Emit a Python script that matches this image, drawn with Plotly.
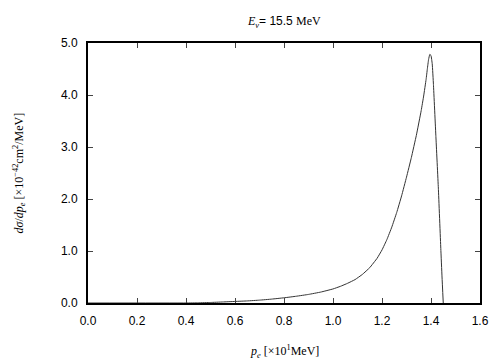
import plotly.graph_objects as go

pe = [0.0, 0.40, 0.45, 0.50, 0.55, 0.60, 0.65, 0.70, 0.75, 0.80, 0.85, 0.90, 0.95, 1.00, 1.03, 1.06,
      1.09, 1.12, 1.15, 1.18, 1.20, 1.22, 1.24, 1.26, 1.28, 1.30, 1.32, 1.34, 1.36, 1.37, 1.38,
      1.385, 1.39, 1.395, 1.40, 1.405, 1.41, 1.42, 1.43, 1.44, 1.445, 1.45]
dsig = [0.0, 0.0, 0.003, 0.01, 0.02, 0.03, 0.04, 0.055, 0.075, 0.10, 0.13, 0.165, 0.21, 0.27, 0.32, 0.38,
        0.45, 0.55, 0.68, 0.86, 1.02, 1.22, 1.46, 1.74, 2.06, 2.42, 2.80, 3.22, 3.70, 3.98, 4.30,
        4.50, 4.68, 4.78, 4.76, 4.60, 4.20, 3.20, 2.21, 1.05, 0.50, 0.0]

xticks = [0.0, 0.2, 0.4, 0.6, 0.8, 1.0, 1.2, 1.4, 1.6]
yticks = [0.0, 1.0, 2.0, 3.0, 4.0, 5.0]

fig = go.Figure()
fig.add_trace(go.Scatter(x=pe, y=dsig, mode="lines",
                         line=dict(color="#333333", width=1, shape="spline", smoothing=0.3),
                         showlegend=False, hoverinfo="skip"))

axis_common = dict(showgrid=False, zeroline=False, showline=True, linecolor="black", linewidth=2,
                   mirror="ticks", ticks="inside", ticklen=5, tickwidth=1, tickcolor="#444",
                   ticklabelstandoff=6,
                   tickfont=dict(family="Liberation Sans, Arial", size=12, color="black"))

fig.update_layout(
    width=504, height=360,
    margin=dict(l=80, r=32, t=35, b=65),
    paper_bgcolor="white", plot_bgcolor="white",
    xaxis=dict(range=[0, 1.6], tickvals=xticks, ticktext=[f"{v:.1f}" for v in xticks], **axis_common),
    yaxis=dict(range=[0, 5.0], tickvals=yticks, ticktext=[f"{v:.1f}" for v in yticks], **axis_common),
    annotations=[
        dict(text="<i>E<sub>ν</sub></i><span style='font-family:Liberation Sans'>= 15.5 </span>MeV",
             xref="paper", yref="paper", x=0.5, y=1.0, yshift=31, showarrow=False,
             font=dict(family="Liberation Serif, Times New Roman", size=12, color="black")),
        dict(text="<i>p<sub>e</sub></i> [×10<sup>1</sup>MeV]",
             xref="paper", yref="paper", x=0.5, y=0, yshift=-59, showarrow=False,
             font=dict(family="Liberation Serif, Times New Roman", size=12, color="black")),
        dict(text="<i>dσ</i>/<i>dp<sub>e</sub></i> [×10<sup>−42</sup>cm<sup>2</sup>/MeV]",
             xref="paper", yref="paper", x=0, xshift=-80, y=0.5, textangle=-90, showarrow=False,
             font=dict(family="Liberation Serif, Times New Roman", size=12, color="black")),
    ],
)

fig.write_html("out.html")
